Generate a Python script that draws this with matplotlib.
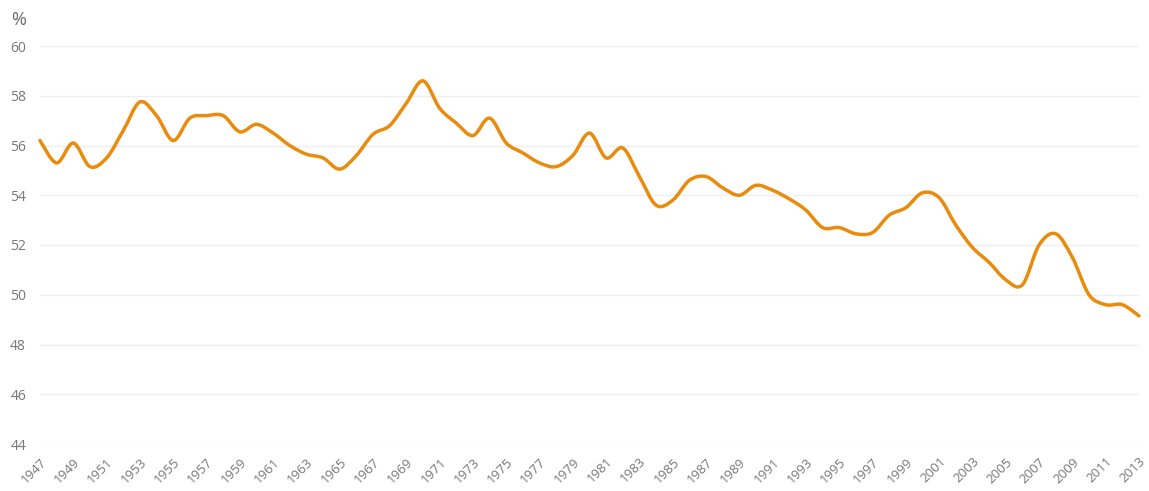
import numpy as np
import matplotlib.pyplot as plt
from matplotlib.path import Path
from matplotlib.patches import PathPatch

plt.rcParams['font.family'] = ['Open Sans', 'DejaVu Sans']

years = list(range(1947, 2014))
share = [56.2, 55.3, 56.1, 55.15, 55.5, 56.6, 57.75, 57.2, 56.2, 57.1,
         57.2, 57.2, 56.55, 56.85, 56.5, 56.0, 55.65, 55.5, 55.05, 55.6,
         56.45, 56.8, 57.7, 58.6, 57.5, 56.9, 56.4, 57.1, 56.1, 55.7,
         55.3, 55.15, 55.6, 56.5, 55.5, 55.9, 54.75, 53.6, 53.8, 54.6,
         54.75, 54.3, 54.0, 54.4, 54.2, 53.85, 53.4, 52.7, 52.7, 52.45,
         52.5, 53.2, 53.5, 54.1, 53.9, 52.8, 51.9, 51.3, 50.6, 50.4,
         52.0, 52.45, 51.5, 50.0, 49.6, 49.6, 49.15]
yticks = [44, 46, 48, 50, 52, 54, 56, 58, 60]
xticks = list(range(1947, 2014, 2))

fig = plt.figure(figsize=(11.49, 4.91), dpi=100)
ax = fig.add_axes([40/1149, 1-444/491, 1099/1149, 398/491])

# smooth line: Catmull-Rom control points turned into cubic Bezier segments
x = np.array(years, dtype=float)
y = np.array(share)
verts = [(x[0], y[0])]
codes = [Path.MOVETO]
for i in range(len(x) - 1):
    p0 = i - 1 if i > 0 else i
    p3 = i + 2 if i + 2 < len(x) else i + 1
    c1 = (x[i] + (x[i+1] - x[p0]) / 6, y[i] + (y[i+1] - y[p0]) / 6)
    c2 = (x[i+1] - (x[p3] - x[i]) / 6, y[i+1] - (y[p3] - y[i]) / 6)
    verts += [c1, c2, (x[i+1], y[i+1])]
    codes += [Path.CURVE4] * 3
ax.add_patch(PathPatch(Path(verts, codes), facecolor='none', edgecolor='#E98B0C',
                       lw=2.5, capstyle='round', joinstyle='round', zorder=3,
                       clip_on=False))

ax.set_xlim(1947, 2013)
ax.set_ylim(44, 60)
ax.set_yticks(yticks)
ax.set_xticks(xticks)
ax.set_xticklabels([str(t) for t in xticks], rotation=45, ha='right', va='top',
                   rotation_mode='anchor')
ax.tick_params(axis='both', length=0, colors='#777777', labelsize=10)
ax.tick_params(axis='x', labelsize=9.5, pad=8)
ax.tick_params(axis='y', pad=10)
ax.grid(axis='y', color='#efefef', lw=1)
ax.set_axisbelow(True)
for s in ax.spines.values():
    s.set_visible(False)

fig.text(11/1149, 1-25/491, '%', fontsize=13, color='#666666')

fig.savefig('out.png', dpi=100)
